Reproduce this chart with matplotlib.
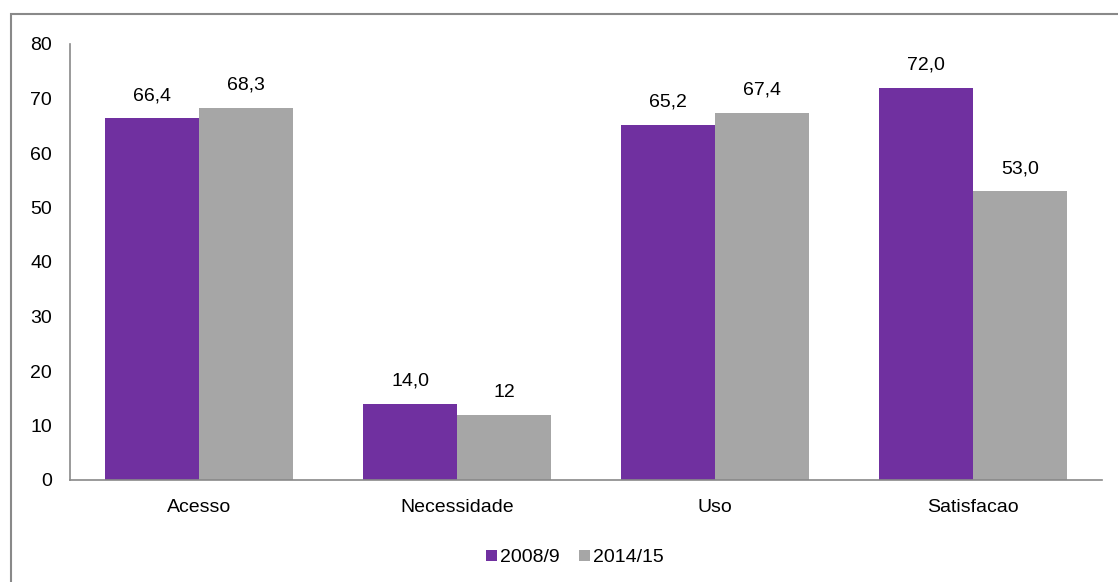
import matplotlib.pyplot as plt
import numpy as np
from matplotlib.patches import Rectangle

categories = ['Acesso', 'Necessidade', 'Uso', 'Satisfacao']
vals_2008 = [66.4, 14.0, 65.2, 72.0]
vals_2014 = [68.3, 12, 67.4, 53.0]
labels_2008 = ['66,4', '14,0', '65,2', '72,0']
labels_2014 = ['68,3', '12', '67,4', '53,0']
series_names = ['2008/9', '2014/15']

plt.rcParams['font.family'] = ['Liberation Sans', 'DejaVu Sans']

purple = '#7030A0'
grey = '#A6A6A6'
spine_col = '#898989'
fs = 14

fig = plt.figure(figsize=(11.18, 5.82), dpi=100)
# outer chart border
fig.patches.append(Rectangle((11 / 1118, -0.05), 1.2, 1 - 14 / 582 + 0.05,
                             transform=fig.transFigure, fill=False,
                             edgecolor=spine_col, linewidth=1.5))

ax = fig.add_axes([70 / 1118, 1 - 480 / 582, 1032 / 1118, 436 / 582])

x = np.arange(len(categories))
w = 0.364
b1 = ax.bar(x - w / 2, vals_2008, w, color=purple, label=series_names[0])
b2 = ax.bar(x + w / 2, vals_2014, w, color=grey, label=series_names[1])

for bars, labs in ((b1, labels_2008), (b2, labels_2014)):
    for bar, lab in zip(bars, labs):
        ax.annotate(lab, (bar.get_x() + bar.get_width() / 2, bar.get_height()),
                    xytext=(0, 10), textcoords='offset points',
                    ha='center', va='bottom', fontsize=fs)

ax.set_xlim(-0.5, 3.5)
ax.set_ylim(0, 80)
ax.set_yticks(range(0, 81, 10))
ax.set_xticks(x)
ax.set_xticklabels(categories)
ax.tick_params(axis='both', length=0, labelsize=fs)
ax.tick_params(axis='x', pad=14)
ax.tick_params(axis='y', pad=13)

for s in ('top', 'right'):
    ax.spines[s].set_visible(False)
for s in ('left', 'bottom'):
    ax.spines[s].set_color(spine_col)
    ax.spines[s].set_linewidth(1.2)

fig.legend(loc='center', bbox_to_anchor=(575 / 1118, 1 - 558 / 582), ncol=2,
           frameon=False, fontsize=fs, handlelength=0.55, handleheight=0.55,
           handletextpad=0.15, columnspacing=1.0)

fig.savefig('out.png', dpi=100)
